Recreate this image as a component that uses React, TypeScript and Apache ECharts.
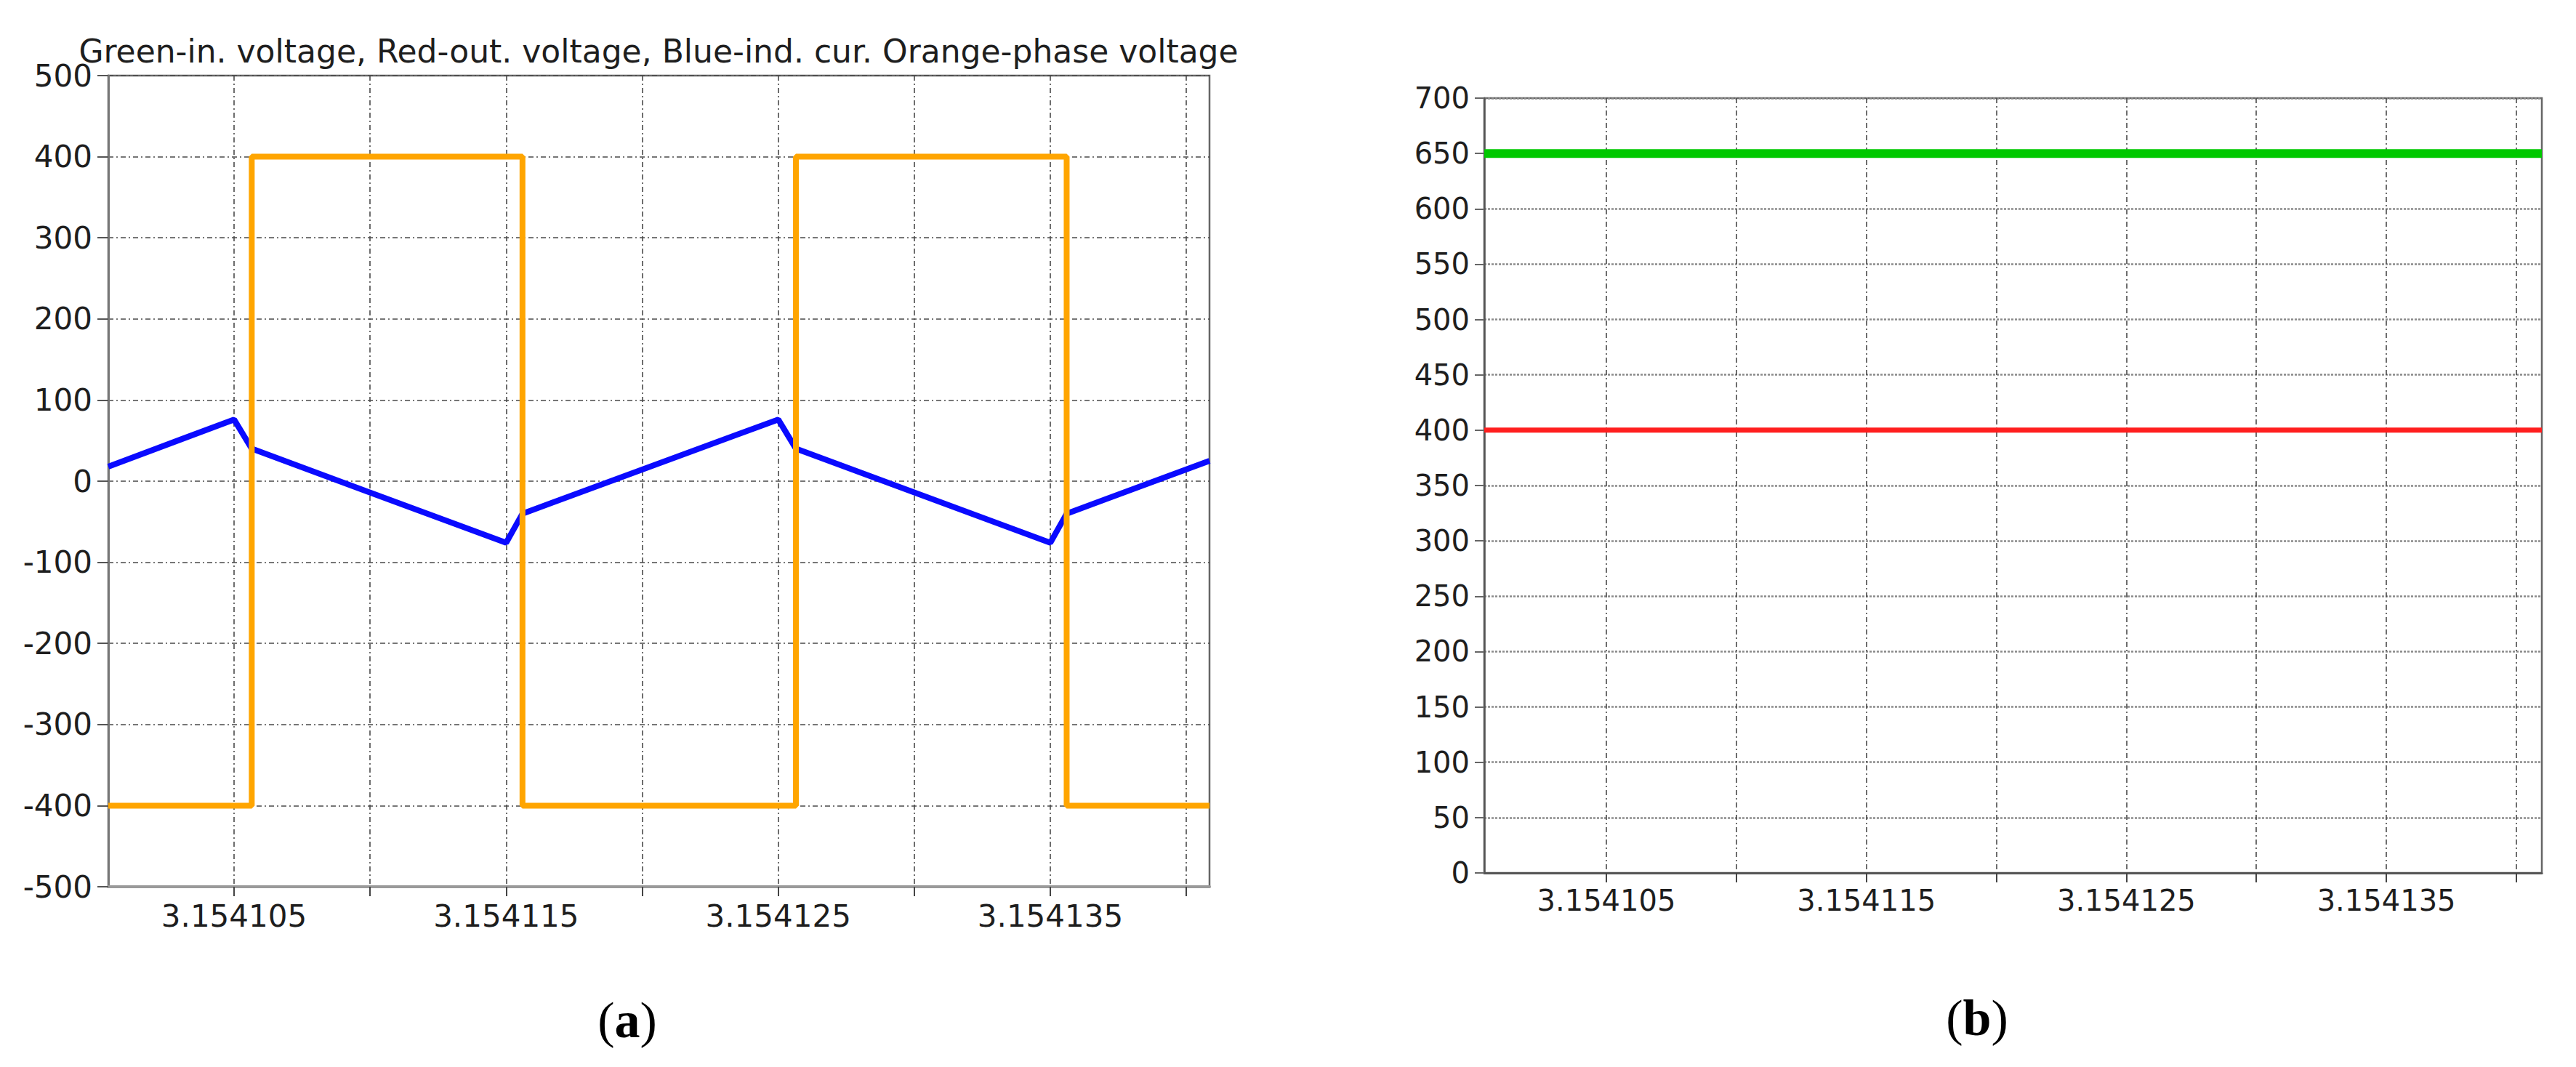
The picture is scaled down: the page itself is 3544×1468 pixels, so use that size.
import React, { useEffect, useRef } from "react";
import * as echarts from "echarts";

// Time axis: microseconds after 3.1541 s
const gridTickTimes = [5, 10, 15, 20, 25, 30, 35, 40];
const labelTickTimes = [5, 15, 25, 35];
const xTickLabels = ["3.154105", "3.154115", "3.154125", "3.154135"];

// Panel (a): inductor current (blue) and phase voltage (orange)
const rangeA = [0.378, 40.85];
const currentTimes = [0.378, 5.0, 5.65, 15.0, 15.6, 25.0, 25.65, 35.0, 35.6, 40.85];
const currentValues = [18, 76, 40, -76, -40, 76, 40, -76, -40, 25];
const phaseTimes = [0.378, 5.65, 5.65, 15.6, 15.6, 25.65, 25.65, 35.6, 35.6, 40.85];
const phaseValues = [-400, -400, 400, 400, -400, -400, 400, 400, -400, -400];

// Panel (b): input voltage (green) and output voltage (red)
const rangeB = [0.305, 40.98];
const busTimes = [0.305, 40.98];
const inputVoltage = [650, 650];
const outputVoltage = [400, 400];

const titleText =
  "Green-in. voltage, Red-out. voltage, Blue-ind. cur. Orange-phase voltage";

const FONT = "DejaVu Sans";

const pair = (xs: number[], ys: number[]) => xs.map((x, i) => [x, ys[i]]);

const xLabelFormatter = (v: number) => {
  const i = labelTickTimes.findIndex((t) => Math.abs(t - v) < 1e-6);
  return i >= 0 ? xTickLabels[i] : "";
};

function makeXAxis(gridIndex: number, range: number[], fontSize: number, margin: number, axisColor: string, axisWidth: number) {
  return {
    type: "value",
    gridIndex,
    min: range[0],
    max: range[1],
    axisLine: { show: true, onZero: false, lineStyle: { color: axisColor, width: axisWidth } },
    axisTick: {
      show: true,
      inside: false,
      length: 13,
      customValues: gridTickTimes,
      lineStyle: { color: "#444", width: 2 },
    },
    axisLabel: {
      show: true,
      customValues: labelTickTimes,
      formatter: xLabelFormatter,
      fontFamily: FONT,
      fontSize,
      color: "#1e1e1e",
      margin,
    },
    splitLine: {
      show: true,
      lineStyle: { color: "#4a4a4a", width: 1.6, type: [7, 4, 2, 4] },
    },
  };
}

const labelRich = {
  p: { fontFamily: "Liberation Serif", fontSize: 70, fill: "#000" },
  b: { fontFamily: "Liberation Serif", fontSize: 70, fontWeight: "bold", fill: "#000" },
};

const option = {
  animation: false,
  backgroundColor: "#ffffff",
  grid: [
    {
      left: 149,
      top: 104,
      width: 1515,
      height: 1116,
      show: true,
      borderColor: "#666",
      borderWidth: 2.5,
      backgroundColor: "transparent",
      outerBoundsMode: "none",
    },
    {
      left: 2042,
      top: 135,
      width: 1455,
      height: 1066,
      show: true,
      borderColor: "#666",
      borderWidth: 2.5,
      backgroundColor: "transparent",
      outerBoundsMode: "none",
    },
  ],
  xAxis: [
    makeXAxis(0, rangeA, 42, 19, "#9a9a9a", 4),
    makeXAxis(1, rangeB, 40, 18, "#555", 3),
  ],
  yAxis: [
    {
      type: "value",
      gridIndex: 0,
      min: -500,
      max: 500,
      interval: 100,
      axisLine: { show: true, onZero: false, lineStyle: { color: "#777", width: 3 } },
      axisTick: { show: true, inside: false, length: 15, lineStyle: { color: "#555", width: 2 } },
      axisLabel: { fontFamily: FONT, fontSize: 42, color: "#1e1e1e", margin: 22 },
      splitLine: { show: true, lineStyle: { color: "#4a4a4a", width: 1.6, type: [7, 4, 2, 4] } },
    },
    {
      type: "value",
      gridIndex: 1,
      min: 0,
      max: 700,
      interval: 50,
      axisLine: { show: true, onZero: false, lineStyle: { color: "#555", width: 2.5 } },
      axisTick: { show: true, inside: false, length: 13, lineStyle: { color: "#666", width: 2 } },
      axisLabel: { fontFamily: FONT, fontSize: 40, color: "#1e1e1e", margin: 20 },
      splitLine: { show: true, lineStyle: { color: "#8a8a8a", width: 2.5, type: [3, 2] } },
    },
  ],
  series: [
    {
      name: "Blue-ind. cur.",
      type: "line",
      xAxisIndex: 0,
      yAxisIndex: 0,
      data: pair(currentTimes, currentValues),
      showSymbol: false,
      symbol: "none",
      lineStyle: { color: "#0a0aff", width: 8 },
      z: 3,
    },
    {
      name: "Orange-phase voltage",
      type: "line",
      xAxisIndex: 0,
      yAxisIndex: 0,
      data: pair(phaseTimes, phaseValues),
      showSymbol: false,
      symbol: "none",
      lineStyle: { color: "#ffa500", width: 8 },
      z: 4,
    },
    {
      name: "Green-in. voltage",
      type: "line",
      xAxisIndex: 1,
      yAxisIndex: 1,
      data: pair(busTimes, inputVoltage),
      showSymbol: false,
      symbol: "none",
      lineStyle: { color: "#00c800", width: 12 },
      z: 3,
    },
    {
      name: "Red-out. voltage",
      type: "line",
      xAxisIndex: 1,
      yAxisIndex: 1,
      data: pair(busTimes, outputVoltage),
      showSymbol: false,
      symbol: "none",
      lineStyle: { color: "#ff1e1e", width: 7 },
      z: 3,
    },
  ],
  graphic: [
    {
      type: "text",
      x: 906,
      y: 70,
      style: {
        text: titleText,
        fontFamily: FONT,
        fontSize: 44,
        fill: "#1e1e1e",
        textAlign: "center",
        textVerticalAlign: "middle",
      },
      z: 10,
    },
    {
      type: "text",
      x: 863,
      y: 1403,
      style: {
        text: "{p|(}{b|a}{p|)}",
        textAlign: "center",
        textVerticalAlign: "middle",
        rich: labelRich,
      },
    },
    {
      type: "text",
      x: 2720,
      y: 1400,
      style: {
        text: "{p|(}{b|b}{p|)}",
        textAlign: "center",
        textVerticalAlign: "middle",
        rich: labelRich,
      },
    },
  ],
};

export default function App() {
  const ref = useRef<HTMLDivElement>(null);
  useEffect(() => {
    document.body.style.margin = "0";
    const chart = echarts.init(ref.current as HTMLDivElement, null, { renderer: "svg" });
    chart.setOption(option as any);
    return () => chart.dispose();
  }, []);
  return (
    <div
      ref={ref}
      style={{ position: "absolute", left: 0, top: 0, width: 3544, height: 1468, background: "#fff" }}
    />
  );
}
